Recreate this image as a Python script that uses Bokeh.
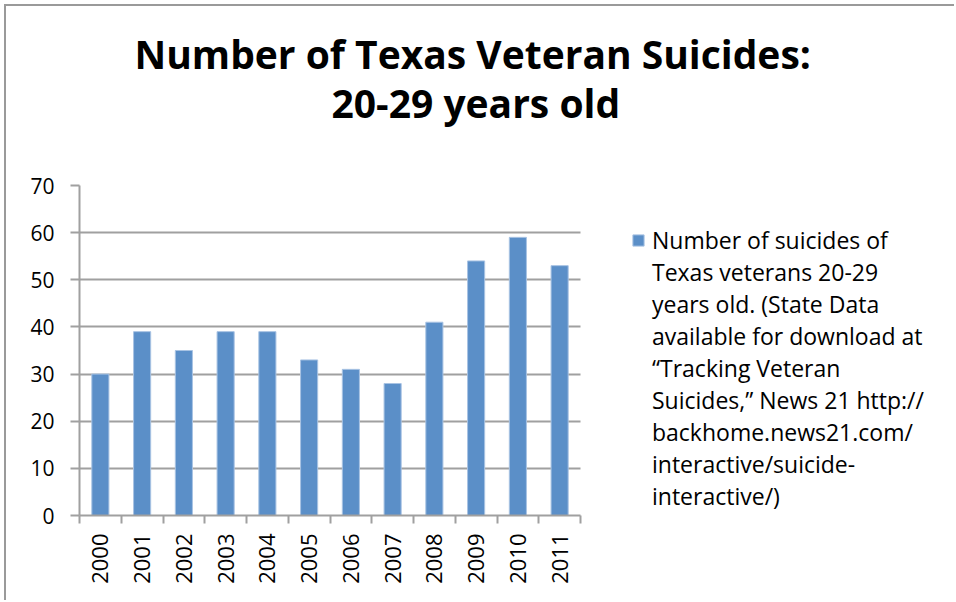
from bokeh.plotting import figure
from bokeh.models import (ColumnDataSource, Range1d, FixedTicker, Title, Legend, LegendItem, Grid)
from bokeh.embed import file_html
from bokeh.resources import INLINE
import math

years = ["2000", "2001", "2002", "2003", "2004", "2005", "2006", "2007", "2008", "2009", "2010", "2011"]
suicides = [30, 39, 35, 39, 39, 33, 31, 28, 41, 54, 59, 53]
y_ticks = [0, 10, 20, 30, 40, 50, 60, 70]
title_line1 = "Number of Texas Veteran Suicides:"
title_line2 = "20-29 years old"
series_label_lines = ["Number of suicides of", "Texas veterans 20-29", "years old. (State Data",
                      "available for download at", "\u201cTracking Veteran",
                      "Suicides,\u201d News 21 http://", "backhome.news21.com/",
                      "interactive/suicide-", "interactive/)"]

FONT = "Open Sans"
GRID = "#a0a0a0"
BAR = "#5b8fc8"

n = len(years)
# the frame spans the whole width; the bar area occupies the left 501 px of 877 px
x_end = n * 877 / 501
xpos = [i + 0.5 for i in range(n)]
src = ColumnDataSource(dict(x=xpos, top=suicides, year=years))

p = figure(width=950, height=596, output_backend="svg", toolbar_location=None,
           x_range=Range1d(0, x_end), y_range=Range1d(0, 70),
           min_border_left=73, min_border_right=0, min_border_top=179, min_border_bottom=87,
           title=None)
p.margin = (4, 0, 0, 4)
p.styles = {"border-top": "2px solid #9a9a9a", "border-left": "2px solid #9a9a9a"}
p.outline_line_color = None
p.background_fill_color = "white"
p.border_fill_color = "white"

# horizontal gridlines limited to the bar area
p.xgrid.grid_line_color = None
if "cross_bounds" in Grid.properties():
    p.ygrid.grid_line_color = GRID
    p.ygrid.grid_line_width = 2
    p.ygrid.cross_bounds = (0, n)
else:
    p.ygrid.grid_line_color = None
    p.segment(x0=[0] * len(y_ticks), x1=[n] * len(y_ticks), y0=y_ticks, y1=y_ticks,
              line_color=GRID, line_width=2)

r = p.vbar(x="x", top="top", width=0.41, source=src, fill_color=BAR,
           line_color="#a8c3e3", line_width=1)
# invisible renderer used only to carry the continuation lines of the legend label
blank = p.vbar(x=[], top=[], width=0.41, fill_alpha=0, line_alpha=0)

# y axis
p.yaxis.ticker = FixedTicker(ticks=y_ticks)
p.yaxis.axis_line_color = GRID
p.yaxis.axis_line_width = 2
p.yaxis.major_tick_line_color = GRID
p.yaxis.major_tick_line_width = 2
p.yaxis.major_tick_out = 9
p.yaxis.major_tick_in = 0
p.yaxis.minor_tick_line_color = None
p.yaxis.major_label_text_font = FONT
p.yaxis.major_label_text_font_size = "21px"
p.yaxis.major_label_text_color = "black"
p.yaxis.major_label_standoff = 16

# x axis: labels at centres, ticks at boundaries (minor ticks)
p.xaxis.bounds = (0, n)
p.xaxis.ticker = FixedTicker(ticks=xpos, minor_ticks=list(range(n + 1)))
p.xaxis.major_label_overrides = {x: y for x, y in zip(xpos, years)}
p.xaxis.major_label_orientation = math.pi / 2
p.xaxis.major_tick_line_color = None
p.xaxis.major_tick_out = 0
p.xaxis.major_tick_in = 0
p.xaxis.minor_tick_line_color = GRID
p.xaxis.minor_tick_line_width = 2
p.xaxis.minor_tick_out = 8
p.xaxis.minor_tick_in = 0
p.xaxis.axis_line_color = GRID
p.xaxis.axis_line_width = 2
p.xaxis.major_label_text_font = FONT
p.xaxis.major_label_text_font_size = "22px"
p.xaxis.major_label_text_color = "black"
p.xaxis.major_label_standoff = 10

# titles
t2 = Title(text=title_line2, align="left", text_font=FONT, text_font_style="bold",
           text_font_size="39px", text_color="black", standoff=113, offset=252)
t1 = Title(text=title_line1, align="left", text_font=FONT, text_font_style="bold",
           text_font_size="39px", text_color="black", standoff=-124, offset=55)
p.add_layout(t2, "above")
p.add_layout(t1, "above")

items = [LegendItem(label=series_label_lines[0], renderers=[r])]
items += [LegendItem(label=t, renderers=[blank]) for t in series_label_lines[1:]]
legend = Legend(items=items, location=(552, 3), border_line_color=None, background_fill_alpha=0,
                glyph_width=14, glyph_height=14, label_standoff=7, padding=0, margin=0,
                spacing=0, label_height=20,
                label_text_font=FONT, label_text_font_size="23px", label_text_color="black")
p.add_layout(legend, "center")

open("out.html", "w").write(file_html(p, INLINE))
